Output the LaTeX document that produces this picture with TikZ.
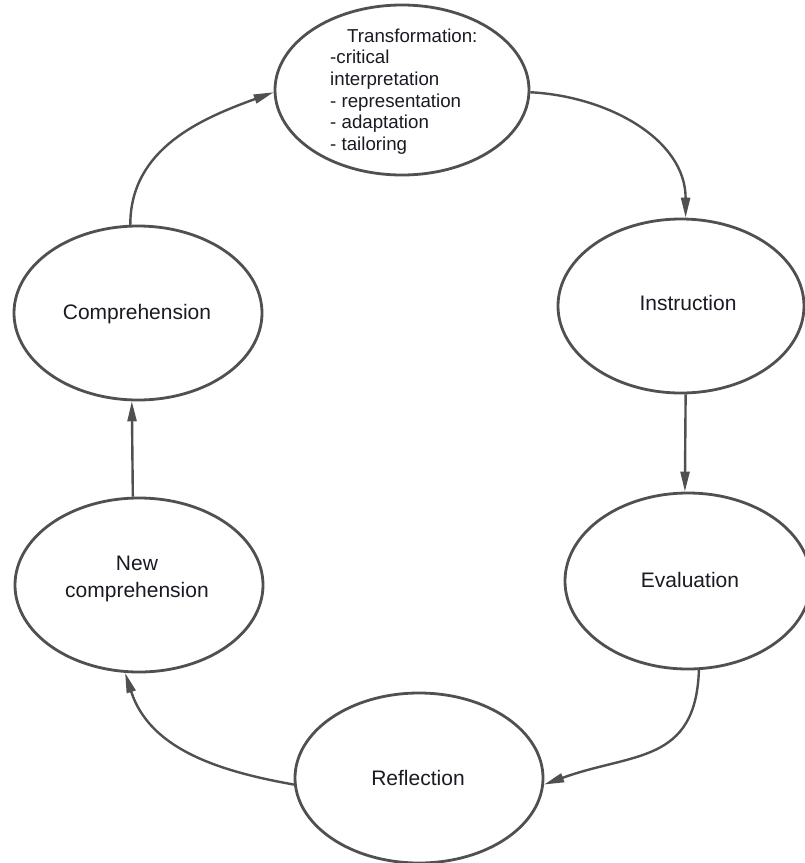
\documentclass[tikz,border=0pt]{standalone}
\usepackage{fontspec}
\setmainfont{Liberation Sans}
\usetikzlibrary{shapes.geometric,arrows.meta}
\definecolor{edge}{HTML}{505050}
\definecolor{txt}{HTML}{1A1A22}
\begin{document}
\begin{tikzpicture}[x=1pt,y=1pt,
  ell/.style={ellipse,draw=edge,line width=2.8pt,inner sep=0pt,fill=white},
  conn/.style={draw=edge,line width=2.4pt,-{Triangle[length=20pt,width=9pt]}},
  lbl/.style={text=txt,font=\fontsize{21}{27}\selectfont,inner sep=0pt}]
\useasboundingbox (0,0) rectangle (805,-863);
\fill[white] (0,0) rectangle (805,-863);

\node[ell,minimum width=254pt,minimum height=170pt] (T) at (402,-90) {};
\node[ell,minimum width=246pt,minimum height=174pt] (I) at (681,-306) {};
\node[ell,minimum width=246pt,minimum height=176pt] (E) at (688,-581) {};
\node[ell,minimum width=248pt,minimum height=170pt] (R) at (419,-778) {};
\node[ell,minimum width=248pt,minimum height=174pt] (NC) at (139,-585) {};
\node[ell,minimum width=248pt,minimum height=174pt] (C) at (138,-313) {};

\draw[conn] (C.95) to[out=90,in=200] (T.181);
\draw[conn] (T.-1) to[out=-3,in=90] (I.87);
\draw[conn] (I.-87) -- (E.92);
\draw[conn] (E.-83) to[out=-92,in=20,looseness=1.25] (R.-3);
\draw[conn] (R.183) to[out=170,in=-72] (NC.-99);
\draw[conn] (NC.94) -- (C.-94);

\node[lbl,anchor=base] (tI) at (688,-310) {Instruction};
\node[lbl,anchor=base] (tE) at (690,-587) {Evaluation};
\node[lbl,anchor=base] (tR) at (418,-785) {Reflection};
\node[lbl,anchor=base] (tC) at (137,-319) {Comprehension};
\node[lbl,anchor=north,align=center] (tNC) at (137,-556) {New\\comprehension};
\node[anchor=north west,align=left,font=\fontsize{18.7}{21.6}\selectfont,text=txt,inner sep=0pt] (tT) at (330,-28.5)
  {\hspace*{17pt}Transformation:\\-critical\\interpretation\\- representation\\- adaptation\\- tailoring};
\end{tikzpicture}
\end{document}
